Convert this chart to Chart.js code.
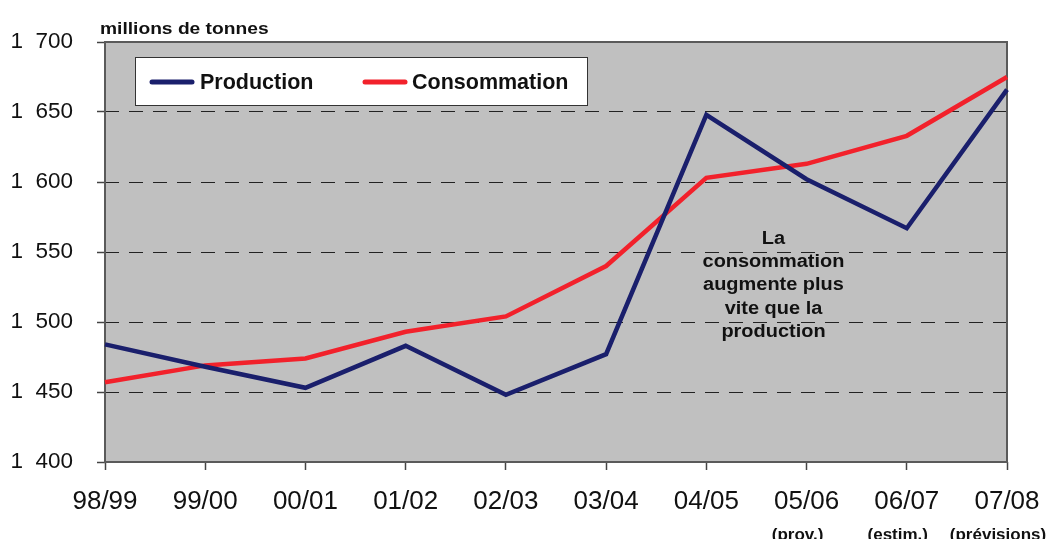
<!DOCTYPE html>
<html lang="fr">
<head>
<meta charset="utf-8">
<title>Production et consommation</title>
<script src="https://cdn.jsdelivr.net/npm/chart.js@4/dist/chart.umd.min.js"></script>
<style>
  html, body { margin: 0; padding: 0; background: #ffffff; }
  #wrap { width: 1050px; height: 539px; }
</style>
</head>
<body>
<div id="wrap"><canvas id="chart" width="1050" height="539"></canvas></div>
<script>
// Campagnes (axe horizontal)
const campaigns = ['98/99', '99/00', '00/01', '01/02', '02/03', '03/04', '04/05', '05/06', '06/07', '07/08'];
// Mentions sous certaines campagnes
const campaignNotes = ['', '', '', '', '', '', '', '(prov.)', '(estim.)', '(prévisions)'];
// Millions de tonnes
const production   = [1484, 1468, 1453, 1483, 1448, 1477, 1648, 1602, 1567, 1666];
const consommation = [1457, 1469, 1474, 1493, 1504, 1540, 1603, 1613, 1633, 1675];
// Graduations de l'axe vertical
const yTicks = [1400, 1450, 1500, 1550, 1600, 1650, 1700];
const unitLabel = 'millions de tonnes';
const noteLines = ['La', 'consommation', 'augmente plus', 'vite que la', 'production'];
const seriesNames = ['Production', 'Consommation'];
const seriesColors = ['#1a1f6c', '#f2212b'];

const FONT = "'Liberation Sans', Arial, Helvetica, sans-serif";

function fmtThousands(v) {
  const s = String(v);
  return s.length > 3 ? s.slice(0, s.length - 3) + '\u00a0\u00a0' + s.slice(-3) : s;
}

// Texte étiré horizontalement
function drawText(ctx, text, x, y, font, align, sx) {
  ctx.save();
  ctx.font = font;
  ctx.textBaseline = 'alphabetic';
  const w = ctx.measureText(text).width * sx;
  let left = x;
  if (align === 'center') left = x - w / 2;
  else if (align === 'right') left = x - w;
  ctx.translate(left, y);
  ctx.scale(sx, 1);
  ctx.textAlign = 'left';
  ctx.fillText(text, 0, 0);
  ctx.restore();
}

const decorations = {
  id: 'decorations',
  beforeDraw(chart) {
    const { ctx, chartArea: a } = chart;
    ctx.save();
    ctx.fillStyle = '#c0c0c0';
    ctx.fillRect(a.left, a.top, a.right - a.left, a.bottom - a.top);
    ctx.restore();
  },
  beforeDatasetsDraw(chart) {
    const { ctx, chartArea: a } = chart;
    ctx.save();
    ctx.strokeStyle = '#5a5a5a';
    ctx.lineWidth = 2;
    ctx.strokeRect(a.left, a.top, a.right - a.left, a.bottom - a.top);
    ctx.restore();
  },
  afterDatasetsDraw(chart) {
    const { ctx, chartArea: a, scales: { x, y } } = chart;
    ctx.save();
    ctx.fillStyle = '#111111';

    // Unité
    drawText(ctx, unitLabel, a.left - 5, a.top - 8, 'bold 16px ' + FONT, 'left', 1.2);

    // Légende
    const lx = a.left + 30, ly = a.top + 15, lw = 452, lh = 48;
    ctx.fillStyle = '#ffffff';
    ctx.fillRect(lx, ly, lw, lh);
    ctx.strokeStyle = '#333333';
    ctx.lineWidth = 1;
    ctx.strokeRect(lx + 0.5, ly + 0.5, lw, lh);
    const entries = [
      { x0: lx + 17, x1: lx + 57, tx: lx + 65 },
      { x0: lx + 230, x1: lx + 270, tx: lx + 277 }
    ];
    entries.forEach((e, i) => {
      ctx.strokeStyle = seriesColors[i];
      ctx.lineWidth = 5;
      ctx.lineCap = 'round';
      ctx.beginPath();
      ctx.moveTo(e.x0, ly + 25);
      ctx.lineTo(e.x1, ly + 25);
      ctx.stroke();
      ctx.fillStyle = '#111111';
      drawText(ctx, seriesNames[i], e.tx, ly + 32, 'bold 21.5px ' + FONT, 'left', 1);
    });

    // Commentaire
    const p6 = x.getPixelForValue(6), p7 = x.getPixelForValue(7);
    const cx = p6 + (p7 - p6) * 0.67;
    const y0 = y.getPixelForValue(1556);
    ctx.fillStyle = '#111111';
    noteLines.forEach((t, i) => {
      drawText(ctx, t, cx, y0 + i * 23.3, 'bold 17.5px ' + FONT, 'center', 1.14);
    });

    // Mentions sous l'axe
    campaignNotes.forEach((t, i) => {
      if (!t) return;
      drawText(ctx, t, x.getPixelForValue(i) - 9, 540, 'bold 17px ' + FONT, 'center', 1);
    });
    ctx.restore();
  }
};

new Chart(document.getElementById('chart'), {
  type: 'line',
  data: {
    labels: campaigns,
    datasets: [
      {
        label: seriesNames[0],
        data: production,
        borderColor: seriesColors[0],
        borderWidth: 4.5,
        pointRadius: 0,
        tension: 0,
        fill: false
      },
      {
        label: seriesNames[1],
        data: consommation,
        borderColor: seriesColors[1],
        borderWidth: 4.5,
        pointRadius: 0,
        tension: 0,
        fill: false
      }
    ]
  },
  options: {
    responsive: false,
    animation: false,
    devicePixelRatio: 1,
    layout: { padding: { top: 42, right: 43, left: 0, bottom: 0 } },
    plugins: {
      legend: { display: false },
      tooltip: { enabled: false }
    },
    scales: {
      x: {
        type: 'category',
        offset: false,
        grid: {
          drawOnChartArea: false,
          drawTicks: true,
          tickLength: 8,
          tickColor: '#444444',
          tickWidth: 1.5
        },
        border: { display: false },
        ticks: {
          color: '#111111',
          font: { family: FONT, size: 26 },
          padding: 16,
          maxRotation: 0,
          autoSkip: false
        },
        afterFit(scale) {
          scale.height = 77;
          scale.paddingLeft = 0;
          scale.paddingRight = 0;
        }
      },
      y: {
        min: 1400,
        max: 1700,
        afterBuildTicks(scale) { scale.ticks = yTicks.map(v => ({ value: v })); },
        grid: {
          color: '#222222',
          lineWidth: 1,
          drawTicks: true,
          tickLength: 8,
          tickColor: '#444444',
          tickWidth: 1.5,
          tickBorderDash: []
        },
        border: { display: false, dash: [14, 10] },
        ticks: {
          color: '#111111',
          font: { family: FONT, size: 22.5 },
          padding: 24,
          callback: (v) => fmtThousands(v)
        },
        afterFit(scale) {
          scale.width = 105;
          scale.paddingTop = 0;
          scale.paddingBottom = 0;
        }
      }
    }
  },
  plugins: [decorations]
});
</script>
</body>
</html>
